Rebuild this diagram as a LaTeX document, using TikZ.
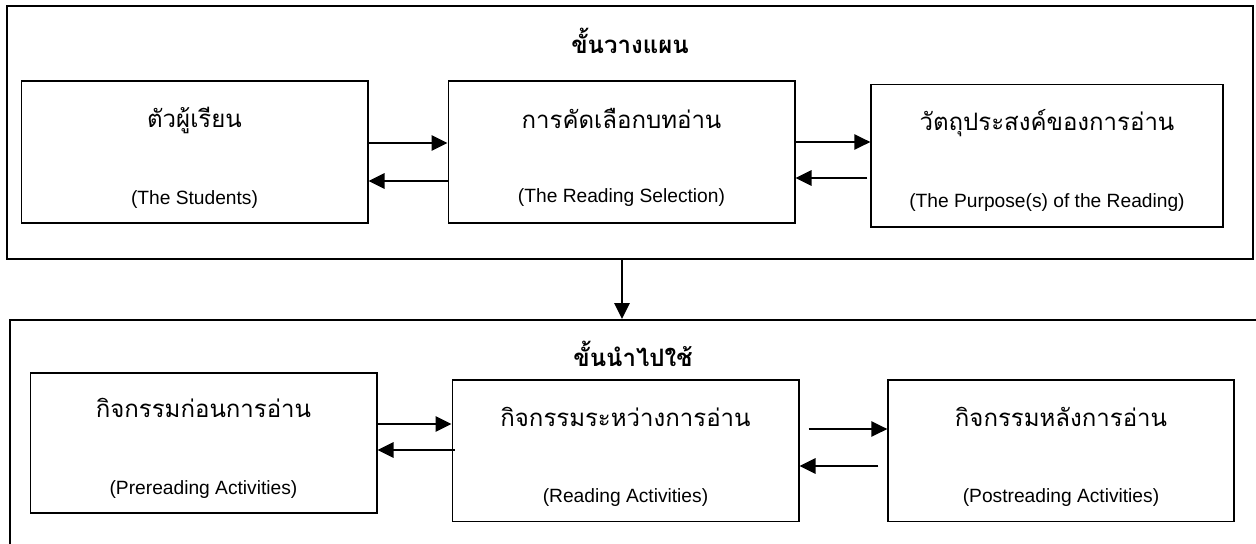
\documentclass[tikz,border=0pt]{standalone}
\usepackage{fontspec}
\setmainfont{Liberation Sans}
\newfontfamily\thaifont[Script=Thai]{Loma}
\usetikzlibrary{arrows.meta}

\begin{document}
\begin{tikzpicture}[x=0.75pt,y=-0.75pt,
  stage/.style={draw,line width=1.5pt,inner sep=0pt},
  box/.style={draw,line width=1pt,inner sep=0pt,minimum width=260pt,minimum height=106.5pt},
  thai/.style={font=\thaifont\fontsize{18}{21}\selectfont,inner sep=0pt},
  stagetitle/.style={font=\thaifont\bfseries\fontsize{18}{21}\selectfont,inner sep=0pt},
  eng/.style={font=\fontsize{14.4}{17}\selectfont,inner sep=0pt},
  flow/.style={line width=1.3pt,-{Triangle[length=12pt,width=11.5pt]}}]
  \useasboundingbox (0,0) rectangle (1256,543);
  % the two stages
  \node[stage,minimum width=934.5pt,minimum height=189.75pt] (plan) at (630,132.5) {};
  \node[stage,minimum width=945pt,minimum height=180pt] (apply) at (640,440) {};
  \node[stagetitle] (plantitle) at (630,41) {ขั้นวางแผน};
  \node[stagetitle] (applytitle) at (633,354) {ขั้นนำไปใช้};
  % planning stage
  \node[box] (stu) at (194.5,152) {};
  \node[box] (sel) at (621.5,152) {};
  \node[box,minimum width=264pt,minimum height=107pt] (pur) at (1047,155.5) {};
  \node[thai] (stuth) at (194.5,120) {ตัวผู้เรียน};
  \node[eng] (stuen) at (194.5,200) {(The Students)};
  \node[thai] (selth) at (621.5,118) {การคัดเลือกบทอ่าน};
  \node[eng] (selen) at (621.5,198) {(The Reading Selection)};
  \node[thai] (purth) at (1047,123) {วัตถุประสงค์ของการอ่าน};
  \node[eng] (puren) at (1047,203) {(The Purpose(s) of the Reading)};
  % applying stage
  \node[box,minimum height=105pt] (pre) at (203.5,443) {};
  \node[box,minimum height=106pt] (whl) at (625.5,450.5) {};
  \node[box,minimum width=259.5pt,minimum height=106pt] (post) at (1061,450.5) {};
  \node[thai] (preth) at (203.5,408) {กิจกรรมก่อนการอ่าน};
  \node[eng] (preen) at (203.5,490) {(Prereading Activities)};
  \node[thai] (whlth) at (625.5,417) {กิจกรรมระหว่างการอ่าน};
  \node[eng] (whlen) at (625.5,498) {(Reading Activities)};
  \node[thai] (postth) at (1061,417) {กิจกรรมหลังการอ่าน};
  \node[eng] (posten) at (1061,498) {(Postreading Activities)};
  % arrows
  \draw[flow] ([yshift=6.75pt]stu.east) -- ([yshift=6.75pt]sel.west);
  \draw[flow] ([yshift=-21.75pt]sel.west) -- ([yshift=-21.75pt]stu.east);
  \draw[flow] ([yshift=7.5pt]sel.east) -- ([yshift=10.125pt]pur.west);
  \draw[flow] ([xshift=-2.25pt,yshift=-16.875pt]pur.west) -- ([yshift=-19.5pt]sel.east);
  \draw[flow] ([xshift=-6pt]plan.south) -- ([xshift=-13.5pt]apply.north);
  \draw[flow] ([yshift=14.25pt]pre.east) -- ([yshift=19.875pt]whl.west);
  \draw[flow] ([xshift=2.25pt,yshift=0.375pt]whl.west) -- ([yshift=-5.25pt]pre.east);
  \draw[flow] ([xshift=6.75pt,yshift=16.125pt]whl.east) -- ([yshift=16.125pt]post.west);
  \draw[flow] ([xshift=-6.75pt,yshift=-11.625pt]post.west) -- ([yshift=-11.625pt]whl.east);
\end{tikzpicture}
\end{document}
